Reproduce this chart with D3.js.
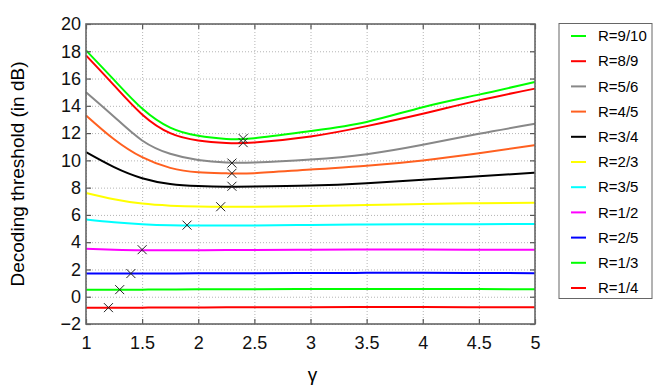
<!DOCTYPE html>
<html>
<head>
<meta charset="utf-8">
<script src="https://cdn.jsdelivr.net/npm/d3@7"></script>
<style>
  body { margin: 0; background: #fff; }
  svg { display: block; font-family: "Liberation Sans", Arial, sans-serif; }
  .grid line { stroke: #b4b4b4; stroke-width: 1; stroke-dasharray: 1,2; }
  .grid path { display: none; }
  .ax path { display: none; }
  .ax line { stroke: #555; stroke-width: 1.2; }
  .ax text { font-size: 18px; fill: #111; }
</style>
</head>
<body>
<div id="chart"></div>
<script>
// sampled points of each threshold curve
var gamma = [1, 1.25, 1.5, 1.75, 2, 2.25, 2.5, 3, 3.5, 4, 4.5, 5]

var labels = ["R=9/10", "R=8/9", "R=5/6", "R=4/5", "R=3/4", "R=2/3", "R=3/5", "R=1/2", "R=2/5", "R=1/3", "R=1/4"]
var colors = ["#00ff00", "#ff0000", "#888888", "#ff6020", "#000000", "#ffff00", "#00ffff", "#ff00ff", "#0000ff", "#00ff00", "#ff0000"]

var r9_10 = [18.07, 15.9, 13.8, 12.4, 11.8, 11.57, 11.62, 12.15, 12.82, 13.9, 14.82, 15.75]
var r8_9 = [17.7, 15.5, 13.37, 12.0, 11.46, 11.28, 11.31, 11.75, 12.51, 13.42, 14.4, 15.26]
var r5_6 = [15.0, 13.2, 11.46, 10.48, 10.03, 9.84, 9.84, 10.06, 10.45, 11.14, 11.95, 12.68]
var r4_5 = [13.3, 11.55, 10.23, 9.45, 9.13, 9.05, 9.06, 9.33, 9.6, 9.99, 10.52, 11.11]
var r3_4 = [10.6, 9.5, 8.69, 8.27, 8.12, 8.07, 8.08, 8.15, 8.32, 8.57, 8.83, 9.1]
var r2_3 = [7.61, 7.15, 6.83, 6.68, 6.61, 6.59, 6.6, 6.65, 6.73, 6.8, 6.86, 6.9]
var r3_5 = [5.66, 5.46, 5.32, 5.24, 5.22, 5.22, 5.23, 5.26, 5.3, 5.31, 5.32, 5.33]
var r1_2 = [3.51, 3.45, 3.41, 3.41, 3.41, 3.42, 3.43, 3.45, 3.46, 3.46, 3.45, 3.44]
var r2_5 = [1.71, 1.71, 1.71, 1.71, 1.72, 1.72, 1.73, 1.74, 1.75, 1.75, 1.74, 1.73]
var r1_3 = [0.51, 0.52, 0.52, 0.53, 0.54, 0.54, 0.55, 0.56, 0.57, 0.57, 0.56, 0.55]
var r1_4 = [-0.8, -0.8, -0.8, -0.79, -0.79, -0.78, -0.78, -0.77, -0.75, -0.76, -0.77, -0.77]

// marked optimum points (x marks)
var optGamma = [2.4, 2.4, 2.3, 2.3, 2.3, 2.2, 1.9, 1.5, 1.4, 1.3, 1.2]
var optThreshold = [11.6, 11.3, 9.8, 9.05, 8.1, 6.6, 5.25, 3.45, 1.7, 0.52, -0.8]

var xTicks = [1, 1.5, 2, 2.5, 3, 3.5, 4, 4.5, 5]
var yTicks = [-2, 0, 2, 4, 6, 8, 10, 12, 14, 16, 18, 20]

var series = [r9_10, r8_9, r5_6, r4_5, r3_4, r2_3, r3_5, r1_2, r2_5, r1_3, r1_4]

var W = 664, H = 388
var pl = 86, pr = 535, pt = 24, pb = 324

var svg = d3.select("#chart").append("svg")
  .attr("width", W)
  .attr("height", H)

var x = d3.scaleLinear().domain([1, 5]).range([pl, pr])
var y = d3.scaleLinear().domain([-2, 20]).range([pb, pt])

// dotted grid
svg.append("g").attr("class", "grid")
  .attr("transform", "translate(0," + pb + ")")
  .call(d3.axisBottom(x).tickValues(xTicks).tickSize(-(pb - pt)).tickFormat(""))
svg.append("g").attr("class", "grid")
  .attr("transform", "translate(" + pl + ",0)")
  .call(d3.axisLeft(y).tickValues(yTicks).tickSize(-(pr - pl)).tickFormat(""))

// curves
var line = d3.line()
  .x(function(d, i) { return x(gamma[i]) })
  .y(function(d) { return y(d) })
  .curve(d3.curveNatural)

svg.append("g").selectAll("path")
  .data(series)
  .join("path")
  .attr("d", line)
  .attr("fill", "none")
  .attr("stroke", function(d, i) { return colors[i] })
  .attr("stroke-width", 2)

// x markers
var m = 4.5
svg.append("g").selectAll("path")
  .data(optGamma)
  .join("path")
  .attr("d", function(d, i) {
    var cx = x(d), cy = y(optThreshold[i])
    return "M" + (cx - m) + "," + (cy - m) + "L" + (cx + m) + "," + (cy + m) +
           "M" + (cx - m) + "," + (cy + m) + "L" + (cx + m) + "," + (cy - m)
  })
  .attr("stroke", "#222")
  .attr("stroke-width", 1)

// axes with inward ticks
svg.append("g").attr("class", "ax")
  .attr("transform", "translate(0," + pb + ")")
  .call(d3.axisBottom(x).tickValues(xTicks).tickSize(-5).tickPadding(12).tickFormat(d3.format("")))
svg.append("g").attr("class", "ax")
  .attr("transform", "translate(" + pl + ",0)")
  .call(d3.axisLeft(y).tickValues(yTicks).tickSize(-5).tickPadding(5).tickFormat(function(d) { return d < 0 ? "\u2212" + (-d) : d }))
svg.append("g").attr("class", "ax")
  .attr("transform", "translate(0," + pt + ")")
  .call(d3.axisTop(x).tickValues(xTicks).tickSize(-5).tickFormat(""))
svg.append("g").attr("class", "ax")
  .attr("transform", "translate(" + pr + ",0)")
  .call(d3.axisRight(y).tickValues(yTicks).tickSize(-5).tickFormat(""))

svg.append("rect")
  .attr("x", pl).attr("y", pt)
  .attr("width", pr - pl).attr("height", pb - pt)
  .attr("fill", "none")
  .attr("stroke", "#666")
  .attr("stroke-width", 1.6)

// axis titles
svg.append("text")
  .attr("transform", "translate(24," + ((pt + pb) / 2) + ") rotate(-90)")
  .attr("text-anchor", "middle")
  .style("font-size", "19px")
  .text("Decoding threshold (in dB)")

svg.append("text")
  .attr("x", (pl + pr) / 2 + 2)
  .attr("y", 381)
  .attr("text-anchor", "middle")
  .style("font-size", "19px")
  .text("\u03b3")

// legend
var lg = svg.append("g")
lg.append("rect")
  .attr("x", 559).attr("y", 23.5)
  .attr("width", 93).attr("height", 275)
  .attr("fill", "#fff")
  .attr("stroke", "#666")
  .attr("stroke-width", 1)

var item = lg.selectAll("g.item")
  .data(labels)
  .join("g")
  .attr("class", "item")
  .attr("transform", function(d, i) { return "translate(0," + (36 + i * 25.2) + ")" })

item.append("line")
  .attr("x1", 571).attr("x2", 586)
  .attr("stroke", function(d, i) { return colors[i] })
  .attr("stroke-width", 2)

item.append("text")
  .attr("x", 598)
  .attr("dy", "0.35em")
  .style("font-size", "15px")
  .text(function(d) { return d })
</script>
</body>
</html>
